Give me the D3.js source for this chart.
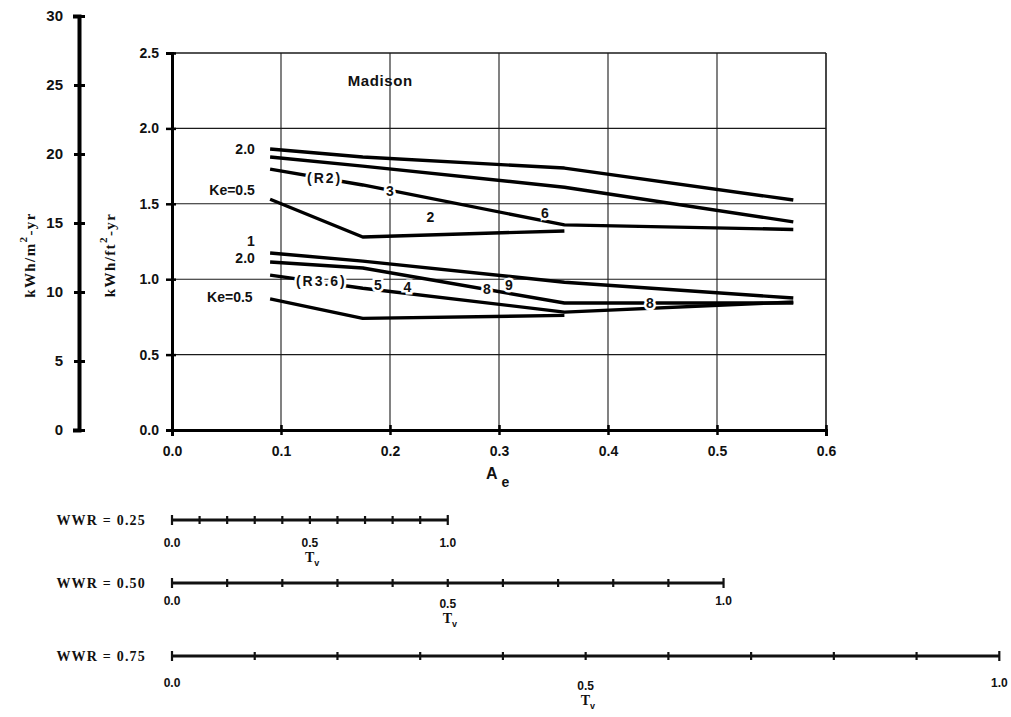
<!DOCTYPE html>
<html><head><meta charset="utf-8">
<script src="https://cdn.jsdelivr.net/npm/d3@7"></script>
<style>body{margin:0;background:#fff}</style>
</head><body>
<svg id="c" width="1011" height="717"></svg>
<script>
// ---- data ----
const aeTicks = [0, 0.1, 0.2, 0.3, 0.4, 0.5, 0.6];
const ftTicks = [0, 0.5, 1.0, 1.5, 2.0, 2.5];
const m2Ticks = [0, 5, 10, 15, 20, 25, 30];
const aeValues = [0.09, 0.175, 0.36, 0.57];
// R2 group
const r2Ke20 = [1.863, 1.81, 1.737, 1.525];
const r2KeB  = [1.81, 1.75, 1.61, 1.38];
const r2KeC  = [1.73, 1.625, 1.36, 1.33];
const r2Ke05 = [1.53, 1.28, 1.32];
// R3.6 group
const r36Ke20 = [1.174, 1.12, 0.98, 0.875];
const r36KeB  = [1.114, 1.074, 0.842, 0.842];
const r36KeC  = [1.027, 0.94, 0.782, 0.849];
const r36Ke05 = [0.87, 0.74, 0.76];
const seriesList = [r2Ke20, r2KeB, r2KeC, r2Ke05, r36Ke20, r36KeB, r36KeC, r36Ke05];
// labels (in data units)
const edgeLabels = [
  {t: "2.0", ae: 0.076, v: 1.863},
  {t: "Ke=0.5", ae: 0.076, v: 1.59},
  {t: "1", ae: 0.076, v: 1.253},
  {t: "2.0", ae: 0.076, v: 1.14},
  {t: "Ke=0.5", ae: 0.074, v: 0.88}
];
const inlineLabels = [
  {t: "(R2)", ae: 0.140, v: 1.67},
  {t: "3", ae: 0.200, v: 1.585},
  {t: "2", ae: 0.237, v: 1.41},
  {t: "6", ae: 0.342, v: 1.44},
  {t: "(R3.6)", ae: 0.137, v: 0.988},
  {t: "5", ae: 0.189, v: 0.96},
  {t: "4", ae: 0.216, v: 0.95},
  {t: "8", ae: 0.289, v: 0.935},
  {t: "9", ae: 0.309, v: 0.96},
  {t: "8", ae: 0.4385, v: 0.842}
];
const titleText = "Madison";
const wwrValues = [0.25, 0.50, 0.75];
const wwrNames = ["WWR = 0.25", "WWR = 0.50", "WWR = 0.75"];
const tvTicks = [0, 0.1, 0.2, 0.3, 0.4, 0.5, 0.6, 0.7, 0.8, 0.9, 1.0];
const tvLabelValues = [0, 0.5, 1.0];

// ---- drawing ----
const svg = d3.select("#c");
const sans = "'Liberation Sans', Arial, Helvetica, sans-serif";
const serif = "'Liberation Serif', 'Times New Roman', serif";

const x = d3.scaleLinear().domain([0, 0.6]).range([172, 826]);
const y = d3.scaleLinear().domain([0, 2.5]).range([430, 53]);
const yL = d3.scaleLinear().domain([0, 30]).range([430, 16]);

// grid
const g = svg.append("g");
g.selectAll(".vg").data(aeTicks.slice(1)).join("line")
  .attr("x1", d => x(d)).attr("x2", d => x(d))
  .attr("y1", y(2.5)).attr("y2", y(0))
  .attr("stroke", "#1a1a1a").attr("stroke-width", d => d === 0.6 ? 1.6 : 1.1);
g.selectAll(".hg").data(ftTicks.slice(1)).join("line")
  .attr("x1", x(0)).attr("x2", x(0.6))
  .attr("y1", d => y(d)).attr("y2", d => y(d))
  .attr("stroke", "#1a1a1a").attr("stroke-width", d => d === 2.5 ? 1.6 : 1.1);

// main axes
const axL = svg.append("g").attr("transform", `translate(${x(0)},0)`)
  .call(d3.axisLeft(y).tickValues(ftTicks).tickFormat(d3.format(".1f")).tickSizeOuter(0).tickSize(6).tickPadding(7));
axL.select(".domain").attr("stroke", "#000").attr("stroke-width", 3);
axL.selectAll(".tick line").attr("stroke-width", 2.5).attr("x2", -6).attr("x1", 4);
axL.selectAll("text").attr("font-family", sans).attr("font-size", 14).attr("font-weight", "bold").attr("fill", "#111");

const axB = svg.append("g").attr("transform", `translate(0,${y(0)})`)
  .call(d3.axisBottom(x).tickValues(aeTicks).tickFormat(d3.format(".1f")).tickSizeOuter(0).tickSize(6).tickPadding(10));
axB.select(".domain").attr("stroke", "#000").attr("stroke-width", 3);
axB.selectAll(".tick line").attr("stroke-width", 2.5).attr("y1", -5).attr("y2", 5);
axB.selectAll("text").attr("font-family", sans).attr("font-size", 14).attr("font-weight", "bold").attr("fill", "#111");

// left (SI) axis
const axM = svg.append("g").attr("transform", `translate(79,0)`)
  .call(d3.axisLeft(yL).tickValues(m2Ticks).tickFormat(d3.format("d")).tickSizeOuter(0).tickSize(6).tickPadding(10));
axM.select(".domain").attr("stroke", "#000").attr("stroke-width", 4);
axM.selectAll(".tick line").attr("stroke-width", 3).attr("x1", 6).attr("x2", -5);
axM.selectAll("text").attr("font-family", sans).attr("font-size", 15).attr("font-weight", "bold").attr("fill", "#111");

// axis titles
function vTitle(cx, unit) {
  const t = svg.append("text").attr("transform", `translate(${cx},255) rotate(-90)`)
    .attr("text-anchor", "middle").attr("font-family", serif).attr("font-weight", "bold")
    .attr("font-size", 15).attr("letter-spacing", 1.4).attr("fill", "#111");
  t.append("tspan").text("kWh/" + unit);
  t.append("tspan").attr("dy", -8).attr("font-size", 11).text("2");
  t.append("tspan").attr("dy", 8).text("-yr");
}
vTitle(35, "m");
vTitle(115, "ft");

const ae = svg.append("text").attr("x", 486).attr("y", 479).attr("font-family", sans)
  .attr("font-weight", "bold").attr("font-size", 16).attr("fill", "#111");
ae.append("tspan").text("A");
ae.append("tspan").attr("dx", 4).attr("dy", 8).attr("font-size", 14).text("e");

// data lines
const line = d3.line().x(d => x(d[0])).y(d => y(d[1]));
svg.append("g").selectAll("path").data(seriesList).join("path")
  .attr("d", s => line(s.map((v, i) => [aeValues[i], v])))
  .attr("fill", "none").attr("stroke", "#000").attr("stroke-width", 3.4)
  .attr("stroke-linejoin", "round");

// inline labels with white halo that breaks the lines
svg.append("g").selectAll("text").data(inlineLabels).join("text")
  .attr("x", d => x(d.ae)).attr("y", d => y(d.v)).attr("dy", "0.36em")
  .attr("text-anchor", "middle").attr("font-family", sans).attr("font-size", 14)
  .attr("font-weight", "bold").attr("letter-spacing", d => d.t.length > 1 ? 2 : 0)
  .attr("fill", "#111").attr("stroke", "#fff").attr("stroke-width", 5)
  .attr("paint-order", "stroke").text(d => d.t);

svg.append("g").selectAll("text").data(edgeLabels).join("text")
  .attr("x", d => x(d.ae)).attr("y", d => y(d.v)).attr("dy", "0.36em")
  .attr("text-anchor", "end").attr("font-family", sans).attr("font-size", 14)
  .attr("font-weight", "bold").attr("fill", "#111").text(d => d.t);

svg.append("text").attr("x", x(0.191)).attr("y", y(2.314)).attr("dy", "0.36em")
  .attr("text-anchor", "middle").attr("font-family", sans).attr("font-size", 15)
  .attr("font-weight", "bold").attr("letter-spacing", 0.6).attr("fill", "#111").text(titleText);

// Tv scales for each WWR
const axisY = [520, 583, 656];
const unitLen = (x(0.6) - x(0)) / 0.6 * 1.012;
wwrValues.forEach((w, k) => {
  const tv = d3.scaleLinear().domain([0, 1]).range([x(0), x(0) + w * unitLen]);
  const gy = axisY[k];
  const gg = svg.append("g");
  gg.append("line").attr("x1", tv(0)).attr("x2", tv(1)).attr("y1", gy).attr("y2", gy)
    .attr("stroke", "#111").attr("stroke-width", 3);
  gg.selectAll(".t").data(tvTicks).join("line")
    .attr("x1", d => tv(d)).attr("x2", d => tv(d))
    .attr("y1", d => gy - (d === 1 || d === 0 ? 5 : 4)).attr("y2", d => gy + (d === 1 || d === 0 ? 5 : 4))
    .attr("stroke", "#111").attr("stroke-width", 2.2);
  const ly = [543, 604, 686][k];
  gg.selectAll(".l").data(tvLabelValues).join("text")
    .attr("x", d => tv(d)).attr("y", d => ly + (d === 0.5 ? 0 : (k === 0 ? 0 : -3)))
    .attr("dy", "0.36em").attr("text-anchor", "middle").attr("font-family", sans)
    .attr("font-size", 12).attr("font-weight", "bold").attr("fill", "#111")
    .text(d => d3.format(".1f")(d));
  const tt = gg.append("text").attr("x", tv(0.5) - 5).attr("y", ly + 19)
    .attr("font-family", serif).attr("font-weight", "bold").attr("font-size", 14).attr("fill", "#111");
  tt.append("tspan").text("T");
  tt.append("tspan").attr("dy", 4).attr("font-family", sans).attr("font-size", 9).text("v");
  gg.append("text").attr("x", 146).attr("y", gy).attr("dy", "0.36em").attr("text-anchor", "end")
    .attr("font-family", serif).attr("font-weight", "bold").attr("font-size", 14)
    .attr("letter-spacing", 1.2).attr("fill", "#111")
    .text(wwrNames[k]);
});
</script>
</body></html>
